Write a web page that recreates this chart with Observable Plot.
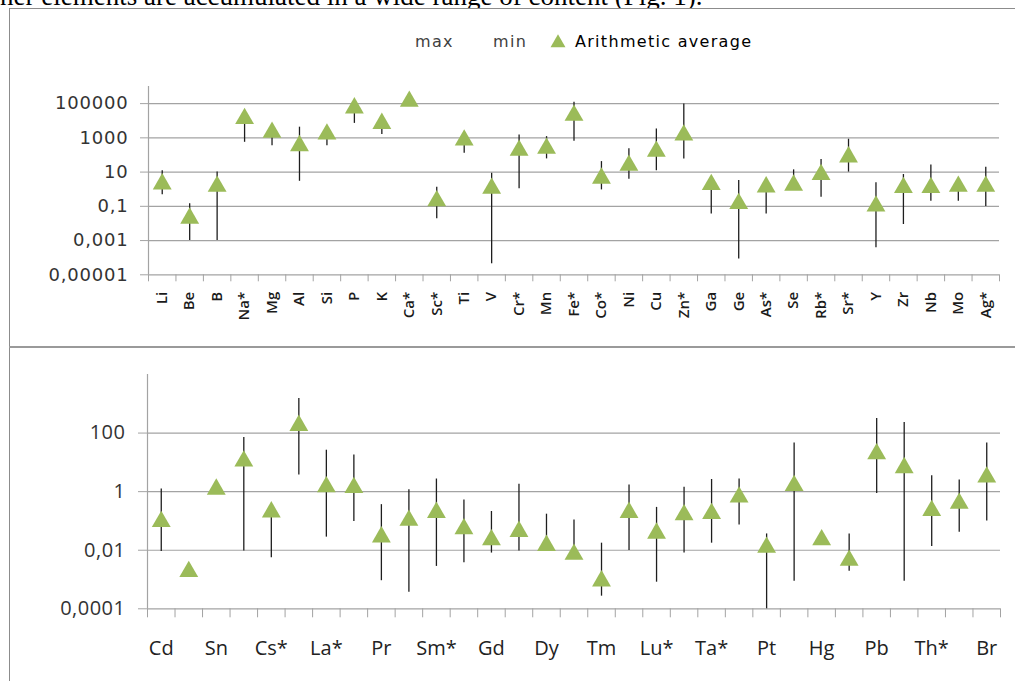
<!DOCTYPE html>
<html>
<head>
<meta charset="utf-8">
<script src="https://cdn.jsdelivr.net/npm/d3@7"></script>
<script src="https://cdn.jsdelivr.net/npm/@observablehq/plot@0.6"></script>
<style>
  html, body { margin: 0; padding: 0; background: #fff; }
  body { width: 1015px; height: 681px; position: relative; overflow: hidden; }
  #intro { position: absolute; left: 0; top: -17px; font-family: "Liberation Serif", serif; font-size: 27px; line-height: 1; white-space: nowrap; color: #000; }
  #frame { position: absolute; left: 9px; top: 8px; width: 1010px; height: 700px; border-left: 1px solid #8c8c8c; border-top: 1px solid #8c8c8c; background: #fff; }
  #divider { position: absolute; left: 9px; top: 346px; width: 1010px; height: 2px; background: #9a9a9a; }
  #legend { position: absolute; left: 0; top: 30px; width: 1015px; height: 24px; font-family: "DejaVu Sans", sans-serif; font-size: 16px; letter-spacing: 1.3px; }
  #legend span { position: absolute; top: 2px; white-space: nowrap; }
  #legend svg { position: absolute; }
  #topChart { position: absolute; left: 0; top: 50px; }
  #bottomChart { position: absolute; left: 0; top: 350px; }
  #topChart g[aria-label="y-axis tick label"] text { letter-spacing: 0.8px; }
  #bottomChart g[aria-label="y-axis tick label"] text { letter-spacing: 0.5px; }
</style>
</head>
<body>
<div id="intro">ner elements are accumulated in a wide range of content (Fig. 1).</div>
<div id="frame"></div>
<div id="divider"></div>
<div id="legend"></div>
<div id="topChart"></div>
<div id="bottomChart"></div>
<script>
// ---------- Data: upper panel ----------
const topElements = ["Li","Be","B","Na*","Mg","Al","Si","P","K","Ca*","Sc*","Ti","V","Cr*","Mn","Fe*","Co*","Ni","Cu","Zn*","Ga","Ge","As*","Se","Rb*","Sr*","Y","Zr","Nb","Mo","Ag*"];
const topAvg = [2.9,0.029,2.1,19000,3000,500,2400,80000,10000,195000,0.3,1070,1.6,270,350,30000,6.3,36,235,2100,2.7,0.21,1.95,2.45,10.2,110,0.15,1.8,1.8,2.1,2.1];
const topMax = [12,0.14,10,25000,4000,4200,3000,100000,12000,250000,1.3,1500,8.5,1480,1180,120000,41,230,3300,96000,3.5,3.2,2.2,13.5,54,830,2.35,7.2,26,2.6,19];
const topMin = [0.47,0.001,0.001,550,350,2.9,350,7000,1550,120000,0.019,125,0.000044,1.05,59,630,0.91,3.8,12,59,0.036,0.000085,0.036,2,0.34,10,0.00038,0.0087,0.2,0.2,0.098];
const topTicks = [1e-5, 1e-3, 0.1, 10, 1000, 100000];

// ---------- Data: lower panel ----------
const bottomElements = ["Cd","In","Sn","Sb","Cs*","Ba","La*","Ce","Pr","Nd","Sm*","Eu","Gd","Tb","Dy","Er","Tm","Yb","Lu*","Hf","Ta*","W","Pt","Au","Hg","Tl","Pb","Bi","Th*","U","Br"];
const bottomAvg = [0.117,0.0023,1.5,13.6,0.25,225,1.8,1.7,0.035,0.13,0.24,0.066,0.028,0.054,0.018,0.0089,0.0011,0.24,0.047,0.2,0.22,0.81,0.0155,2.0,0.028,0.0056,24,8.1,0.28,0.49,3.9];
const bottomMax = [1.23,null,null,71,0.35,1510,26,18,0.36,1.17,2.7,0.52,0.21,1.8,0.17,0.107,0.0174,1.7,0.29,1.4,2.6,2.7,0.036,46,null,0.036,316,230,3.5,2.5,46];
const bottomMin = [0.0091,null,null,0.0095,0.0055,3.7,0.028,0.095,0.00091,0.00037,0.0028,0.0037,0.008,0.0095,0.012,0.008,0.00027,0.0098,0.00081,0.008,0.0174,0.072,0.0001,0.00087,null,0.0019,0.87,0.00087,0.0134,0.041,0.1];
const bottomTicks = [1e-4, 1e-2, 1, 100];

// legend entries
const legendItems = ["max", "min", "Arithmetic average"];

// ---------- Styles ----------
const gridGray = "#a3a3a3";
const green = "#9BBB59";
const lineColor = "#1e1e1e";
const commaFmt = d => String(d).replace(".", ",");

function makeRows(names, avg, mx, mn) {
  return names.map((name, i) => ({ name, pos: i + 0.5, avg: avg[i], max: mx[i], min: mn[i] }));
}

// ---------- Upper chart ----------
const topRows = makeRows(topElements, topAvg, topMax, topMin);
const nTop = topElements.length;
const topPlot = Plot.plot({
  width: 1015, height: 295,
  marginLeft: 148, marginRight: 16, marginTop: 36, marginBottom: 70.7,
  x: { type: "linear", domain: [0, nTop], label: null },
  y: { type: "log", domain: [1e-5, 1e6], label: null },
  style: { background: "transparent", overflow: "visible" },
  marks: [
    Plot.gridY(topTicks, { stroke: gridGray, strokeOpacity: 1, strokeWidth: 1.2 }),
    Plot.ruleX([0], { stroke: gridGray, strokeWidth: 1.2 }),
    Plot.axisY(topTicks, { anchor: "left", tickSize: 8, tickPadding: 12, tickFormat: commaFmt, stroke: gridGray, fill: "#333", fontSize: 18, fontFamily: "DejaVu Sans", label: null }),
    Plot.axisX(d3.range(nTop + 1), { anchor: "bottom", tickSize: 7, tickFormat: () => "", stroke: gridGray, label: null }),
    Plot.axisX(topRows.map(d => d.pos), { anchor: "bottom", tickSize: 0, tickPadding: 17, tickRotate: -90, tickFormat: d => topElements[Math.floor(d)], fill: "#1a1a1a", fontSize: 15, fontWeight: 600, fontFamily: "Open Sans", label: null }),
    Plot.ruleX(topRows.filter(d => d.max != null), { x: "pos", y1: "min", y2: "max", stroke: lineColor, strokeWidth: 1.3 }),
    Plot.dot(topRows, { x: "pos", y: "avg", symbol: "triangle", r: 7, fill: green, dy: 2.7 })
  ]
});
document.getElementById("topChart").appendChild(topPlot);

// ---------- Lower chart ----------
const bottomRows = makeRows(bottomElements, bottomAvg, bottomMax, bottomMin);
const nBot = bottomElements.length;
const bottomPlot = Plot.plot({
  width: 1015, height: 331,
  marginLeft: 147, marginRight: 15, marginTop: 24, marginBottom: 72.7,
  x: { type: "linear", domain: [0, nBot], label: null },
  y: { type: "log", domain: [1e-4, 1e4], label: null },
  style: { background: "transparent", overflow: "visible" },
  marks: [
    Plot.gridY(bottomTicks, { stroke: gridGray, strokeOpacity: 1, strokeWidth: 1.2 }),
    Plot.ruleX([0], { stroke: gridGray, strokeWidth: 1.2 }),
    Plot.axisY(bottomTicks, { anchor: "left", tickSize: 9, tickPadding: 13, tickFormat: commaFmt, stroke: gridGray, fill: "#333", fontSize: 20, fontFamily: "Open Sans", label: null }),
    Plot.axisX(d3.range(nBot + 1), { anchor: "bottom", tickSize: 9, tickFormat: () => "", stroke: gridGray, label: null }),
    Plot.axisX(bottomRows.filter((d, i) => i % 2 === 0).map(d => d.pos), { anchor: "bottom", tickSize: 0, tickPadding: 32, tickFormat: d => bottomElements[Math.floor(d)], fill: "#222", fontSize: 20, fontFamily: "Open Sans", label: null }),
    Plot.ruleX(bottomRows.filter(d => d.max != null), { x: "pos", y1: "min", y2: "max", stroke: lineColor, strokeWidth: 1.3 }),
    Plot.dot(bottomRows, { x: "pos", y: "avg", symbol: "triangle", r: 7, fill: green, dy: 2.7 })
  ]
});
document.getElementById("bottomChart").appendChild(bottomPlot);

// ---------- Legend ----------
const legend = d3.select("#legend");
legend.append("span").style("left", "415px").style("color", "#404040").text(legendItems[0]);
legend.append("span").style("left", "493px").style("color", "#404040").text(legendItems[1]);
const sw = legend.append("svg").attr("width", 18).attr("height", 16).style("left", "549px").style("top", "3px");
sw.append("path").attr("transform", "translate(9,10)").attr("d", d3.symbol(d3.symbolTriangle, 97)()).attr("fill", green);
legend.append("span").style("left", "575px").style("color", "#000").text(legendItems[2]);
</script>
</body>
</html>
